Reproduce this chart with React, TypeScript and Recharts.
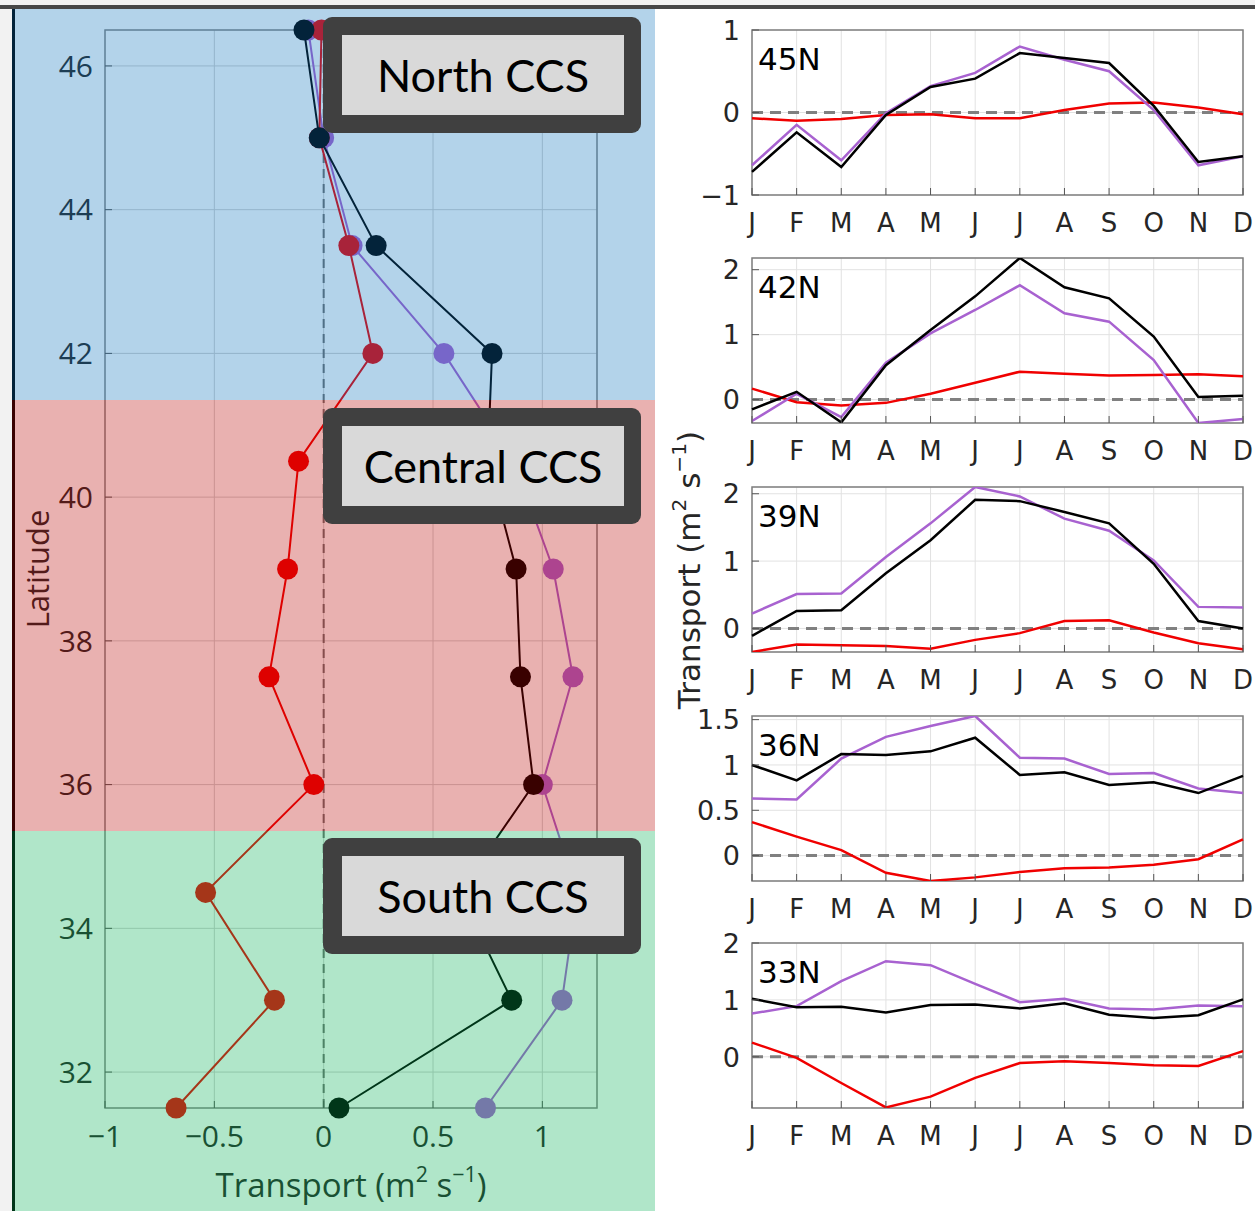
import React from "react";
import {
  ScatterChart,
  Scatter,
  LineChart,
  Line,
  XAxis,
  YAxis,
  CartesianGrid,
  ReferenceLine,
  ReferenceArea,
} from "recharts";

// latitude profile (left panel)
const latitudes = [46.5, 45, 43.5, 42, 40.5, 39, 37.5, 36, 34.5, 33, 31.5];
const cutiByLat = [-0.09, -0.02, 0.24, 0.77, 0.75, 0.88, 0.9, 0.96, 0.62, 0.86, 0.07];
const ekmanByLat = [-0.07, 0.0, 0.13, 0.55, 0.87, 1.05, 1.14, 1.0, 1.16, 1.09, 0.74];
const geoByLat = [-0.01, -0.02, 0.115, 0.225, -0.115, -0.165, -0.25, -0.045, -0.54, -0.225, -0.675];
const latTicks = [32, 34, 36, 38, 40, 42, 44, 46];
const transportTicks = [-1, -0.5, 0, 0.5, 1];

// monthly climatologies (right panels)
const months = ["J", "F", "M", "A", "M", "J", "J", "A", "S", "O", "N", "D"];

const cuti45 = [-0.72, -0.24, -0.66, -0.03, 0.31, 0.41, 0.72, 0.66, 0.6, 0.08, -0.6, -0.53];
const ekman45 = [-0.64, -0.15, -0.58, -0.01, 0.32, 0.48, 0.8, 0.64, 0.5, 0.03, -0.64, -0.53];
const geo45 = [-0.07, -0.1, -0.08, -0.03, -0.02, -0.07, -0.07, 0.03, 0.11, 0.12, 0.06, -0.02];

const cuti42 = [-0.15, 0.12, -0.35, 0.53, 1.07, 1.59, 2.18, 1.73, 1.56, 0.97, 0.04, 0.06];
const ekman42 = [-0.33, 0.09, -0.27, 0.57, 1.02, 1.38, 1.76, 1.33, 1.2, 0.61, -0.36, -0.3];
const geo42 = [0.17, -0.04, -0.09, -0.05, 0.09, 0.26, 0.43, 0.4, 0.37, 0.38, 0.39, 0.36];

const cuti39 = [-0.11, 0.26, 0.27, 0.82, 1.31, 1.91, 1.89, 1.73, 1.56, 0.96, 0.11, 0.0];
const ekman39 = [0.22, 0.51, 0.52, 1.06, 1.56, 2.1, 1.96, 1.63, 1.45, 1.01, 0.32, 0.31];
const geo39 = [-0.35, -0.24, -0.25, -0.26, -0.3, -0.17, -0.07, 0.11, 0.12, -0.06, -0.22, -0.31];

const cuti36 = [1.0, 0.83, 1.12, 1.11, 1.15, 1.3, 0.89, 0.92, 0.78, 0.81, 0.69, 0.88];
const ekman36 = [0.63, 0.62, 1.07, 1.31, 1.43, 1.54, 1.08, 1.07, 0.9, 0.91, 0.74, 0.69];
const geo36 = [0.37, 0.21, 0.06, -0.19, -0.28, -0.24, -0.18, -0.14, -0.13, -0.1, -0.04, 0.18];

const cuti33 = [1.02, 0.87, 0.88, 0.78, 0.91, 0.92, 0.85, 0.94, 0.74, 0.68, 0.73, 1.01];
const ekman33 = [0.76, 0.89, 1.33, 1.68, 1.61, 1.28, 0.96, 1.02, 0.85, 0.83, 0.9, 0.89];
const geo33 = [0.25, -0.02, -0.46, -0.89, -0.7, -0.37, -0.11, -0.08, -0.11, -0.15, -0.16, 0.1];

const panelLabels = ["45N", "42N", "39N", "36N", "33N"];
const panelTicks = [[-1, 0, 1], [0, 1, 2], [0, 1, 2], [0, 0.5, 1, 1.5], [0, 1, 2]];
const panelDomains = [[-1, 1], [-0.36, 2.18], [-0.35, 2.1], [-0.28, 1.54], [-0.9, 2]];

const BLACK = "#000000";
const PURPLE = "#a862d0";
const RED = "#f00000";
const LEFT_FONT = "'Open Sans', 'DejaVu Sans', sans-serif";
const RIGHT_FONT = "'DejaVu Sans', sans-serif";
const AXIS_TEXT = "#262626";

const fmt = (v: number) => (v < 0 ? "\u2212" + Math.abs(v) : String(v));

const profile = (vals: number[]) => latitudes.map((lat, i) => ({ x: vals[i], lat }));

const monthly = (cuti: number[], ekman: number[], geo: number[]) =>
  months.map((m, i) => ({ month: i + 1, cuti: cuti[i], ekman: ekman[i], geo: geo[i] }));

const panels = [
  monthly(cuti45, ekman45, geo45),
  monthly(cuti42, ekman42, geo42),
  monthly(cuti39, ekman39, geo39),
  monthly(cuti36, ekman36, geo36),
  monthly(cuti33, ekman33, geo33),
];

const panelTops = [30, 258, 487, 716, 943];
const TOP_PAD = 22;

function YTick(props: any) {
  const { x, y, payload, gap, size, family } = props;
  return (
    <g>
      <text x={x} y={y} dy="0.36em" textAnchor="end" fontSize={size} fontFamily={family} fill={AXIS_TEXT}>
        {fmt(payload.value)}
      </text>
      <line x1={x + gap} x2={x + gap + 7} y1={y} y2={y} stroke="#555" strokeWidth={1} />
    </g>
  );
}

function XTick(props: any) {
  const { x, y, payload, gap, size, family, labels } = props;
  const text = labels ? labels[payload.value - 1] : fmt(payload.value);
  return (
    <g>
      <text x={x} y={y} dy="0.71em" textAnchor="middle" fontSize={size} fontFamily={family} fill={AXIS_TEXT}>
        {text}
      </text>
      <line x1={x} x2={x} y1={y - gap} y2={y - gap - 7} stroke="#555" strokeWidth={1} />
    </g>
  );
}

const dotShape = (color: string) => (p: any) => <circle cx={p.cx} cy={p.cy} r={10.5} fill={color} />;

function RegionBox({ top, text }: { top: number; text: string }) {
  return (
    <div
      style={{
        position: "absolute",
        left: 323,
        top,
        width: 318,
        height: 116,
        background: "#404040",
        borderRadius: 9,
      }}
    >
      <div
        style={{
          position: "absolute",
          left: 19,
          top: 18,
          width: 282,
          height: 80,
          background: "#d9d9d9",
          display: "flex",
          alignItems: "center",
          justifyContent: "center",
          fontFamily: "Lato, 'Open Sans', sans-serif",
          fontSize: 45,
          color: "#000",
        }}
      >
        {text}
      </div>
    </div>
  );
}

function TransportLabel({ x, y, size, rotate, family }: any) {
  return (
    <text
      x={x}
      y={y}
      textAnchor="middle"
      fontSize={size}
      fontFamily={family}
      fill={AXIS_TEXT}
      transform={rotate ? `rotate(-90 ${x} ${y})` : undefined}
    >
      Transport (m
      <tspan dy={-size * 0.45} fontSize={size * 0.65}>2</tspan>
      <tspan dy={size * 0.45}> s</tspan>
      <tspan dy={-size * 0.45} fontSize={size * 0.65}>{"\u22121"}</tspan>
      <tspan dy={size * 0.45}>)</tspan>
    </text>
  );
}

export default function App() {
  return (
    <div
      style={{
        position: "absolute",
        left: 0,
        top: 0,
        width: 1255,
        height: 1211,
        background: "#f2f2f2",
        overflow: "hidden",
      }}
    >
      <div style={{ position: "absolute", left: 0, top: 5, width: 1255, height: 4, background: "#474747" }} />

      {/* left panel */}
      <div style={{ position: "absolute", left: 12, top: 9, width: 643, height: 1202, background: "#fff" }} />
      <div style={{ position: "absolute", left: 12, top: 9, width: 3, height: 1202, background: "#000" }} />
      <div style={{ position: "absolute", left: 12, top: 9 }}>
        <ScatterChart width={643} height={1202} margin={{ top: 21, right: 58, bottom: 0, left: 0 }}>
          <CartesianGrid stroke="#d2d2d2" strokeWidth={1} />
          <XAxis
            type="number"
            dataKey="x"
            domain={[-1, 1.25]}
            ticks={transportTicks}
            height={103}
            axisLine={false}
            tickLine={false}
            tickSize={0}
            tickMargin={18}
            tick={(p: any) => <XTick {...p} gap={18} size={30} family={LEFT_FONT} />}
          />
          <YAxis
            type="number"
            dataKey="lat"
            domain={[31.5, 46.5]}
            ticks={latTicks}
            width={93}
            axisLine={false}
            tickLine={false}
            tickSize={0}
            tickMargin={12}
            tick={(p: any) => <YTick {...p} gap={12} size={30} family={LEFT_FONT} />}
          />
          <ReferenceArea x1={-1} x2={1.25} y1={31.5} y2={46.5} fill="none" stroke="#8a8a8a" strokeWidth={1.5} />
          <ReferenceLine x={0} stroke="#6e6e6e" strokeWidth={2} strokeDasharray="9 6" />
          <Scatter
            data={profile(ekmanByLat)}
            fill={PURPLE}
            line={{ stroke: PURPLE, strokeWidth: 2 }}
            shape={dotShape(PURPLE)}
            isAnimationActive={false}
          />
          <Scatter
            data={profile(geoByLat)}
            fill={RED}
            line={{ stroke: RED, strokeWidth: 2 }}
            shape={dotShape(RED)}
            isAnimationActive={false}
          />
          <Scatter
            data={profile(cutiByLat)}
            fill={BLACK}
            line={{ stroke: BLACK, strokeWidth: 2 }}
            shape={dotShape(BLACK)}
            isAnimationActive={false}
          />
        </ScatterChart>
      </div>
      <svg style={{ position: "absolute", left: 0, top: 0 }} width={660} height={1211}>
        <text
          x={37}
          y={569}
          textAnchor="middle"
          dominantBaseline="central"
          fontSize={31}
          fontFamily={LEFT_FONT}
          fill={AXIS_TEXT}
          transform="rotate(-90 37 569)"
        >
          Latitude
        </text>
        <TransportLabel x={351} y={1197} size={33} family={LEFT_FONT} />
      </svg>

      {/* regional tints */}
      <div style={{ position: "absolute", left: 12, top: 9, width: 643, height: 391, background: "rgba(10,113,187,0.31)" }} />
      <div style={{ position: "absolute", left: 12, top: 400, width: 643, height: 431, background: "rgba(184,3,0,0.31)" }} />
      <div style={{ position: "absolute", left: 12, top: 831, width: 643, height: 380, background: "rgba(0,174,81,0.31)" }} />

      <RegionBox top={17} text="North CCS" />
      <RegionBox top={408} text="Central CCS" />
      <RegionBox top={838} text="South CCS" />

      {/* right panels */}
      <div style={{ position: "absolute", left: 655, top: 9, width: 600, height: 1202, background: "#fff" }} />
      {panels.map((data, k) => (
        <div key={panelLabels[k]} style={{ position: "absolute", left: 655, top: panelTops[k] - TOP_PAD }}>
          <LineChart
            width={600}
            height={TOP_PAD + 165 + 60}
            data={data}
            margin={{ top: TOP_PAD, right: 12, bottom: 0, left: 0 }}
            style={{ overflow: "visible" }}
          >
            <CartesianGrid stroke="#e2e2e2" strokeWidth={1} />
            <XAxis
              type="number"
              dataKey="month"
              domain={[1, 12]}
              ticks={months.map((_, i) => i + 1)}
              height={60}
              axisLine={false}
              tickLine={false}
              tickSize={0}
              tickMargin={19}
              tick={(p: any) => <XTick {...p} gap={19} size={26} family={RIGHT_FONT} labels={months} />}
            />
            <YAxis
              type="number"
              domain={panelDomains[k]}
              ticks={panelTicks[k]}
              allowDataOverflow
              width={97}
              axisLine={false}
              tickLine={false}
              tickSize={0}
              tickMargin={12}
              tick={(p: any) => <YTick {...p} gap={12} size={27} family={RIGHT_FONT} />}
            />
            <ReferenceLine y={0} stroke="#808080" strokeWidth={3} strokeDasharray="11 7" />
            <ReferenceArea
              x1={1}
              x2={12}
              y1={panelDomains[k][0]}
              y2={panelDomains[k][1]}
              fill="none"
              stroke="#7f7f7f"
              strokeWidth={1.5}
            />
            <Line type="linear" dataKey="geo" stroke={RED} strokeWidth={2.5} dot={false} isAnimationActive={false} />
            <Line type="linear" dataKey="ekman" stroke={PURPLE} strokeWidth={2.5} dot={false} isAnimationActive={false} />
            <Line type="linear" dataKey="cuti" stroke={BLACK} strokeWidth={2.5} dot={false} isAnimationActive={false} />
          </LineChart>
        </div>
      ))}
      <svg style={{ position: "absolute", left: 655, top: 0 }} width={600} height={1211}>
        {panelLabels.map((lab, k) => (
          <text key={lab} x={103} y={panelTops[k] + 40} fontSize={31} fontFamily={RIGHT_FONT} fill="#000">
            {lab}
          </text>
        ))}
        <TransportLabel x={45} y={570} size={31} rotate family={RIGHT_FONT} />
      </svg>
    </div>
  );
}
